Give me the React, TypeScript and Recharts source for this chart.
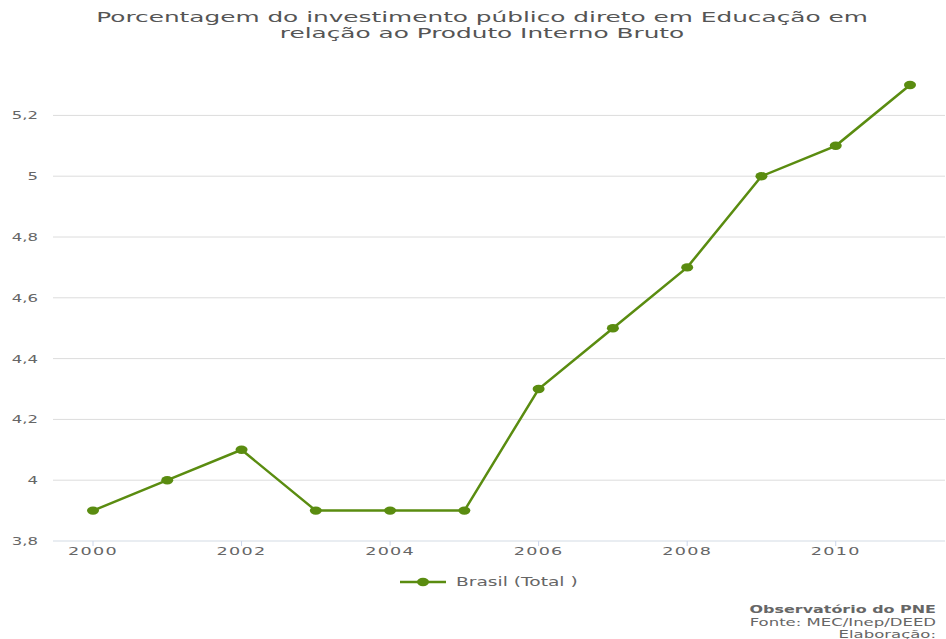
import React from 'react';
import { LineChart, Line, XAxis, YAxis, ReferenceLine } from 'recharts';

const years = [2000, 2001, 2002, 2003, 2004, 2005, 2006, 2007, 2008, 2009, 2010, 2011];
const brasilTotal = [3.9, 4.0, 4.1, 3.9, 3.9, 3.9, 4.3, 4.5, 4.7, 5.0, 5.1, 5.3];
const yTicks = [3.8, 4.0, 4.2, 4.4, 4.6, 4.8, 5.0, 5.2];
const seriesName = 'Brasil (Total )';
const titleLines = ['Porcentagem do investimento público direto em Educação em', 'relação ao Produto Interno Bruto'];
const footerLines = ['Observatório do PNE', 'Fonte: MEC/Inep/DEED', 'Elaboração:'];

const data = years.map((y, i) => ({ year: y, value: brasilTotal[i] }));

const GREEN = '#5a8c10';
const FONT = '"DejaVu Sans", sans-serif';
const SX = 1.5;

const fmt = (v: number) => {
  const s = (Math.round(v * 10) / 10).toString();
  return s.replace('.', ',');
};

function Stretch({ x, y, children, anchor = 'middle', size = 11, fill = '#666', weight = 'normal', sx = SX, ls = 0 }: any) {
  return (
    <g transform={`translate(${x},${y}) scale(${sx},1)`}>
      <text x={0} y={0} textAnchor={anchor} fontSize={size} fill={fill} fontFamily={FONT} fontWeight={weight} letterSpacing={ls}>
        {children}
      </text>
    </g>
  );
}

const XTick = (props: any) => {
  const { x, y, payload } = props;
  return <Stretch x={x} y={y + 6} anchor="middle" size={11} sx={1.6} ls={0.8}>{payload.value}</Stretch>;
};

const YTick = (props: any) => {
  const { x, y, payload } = props;
  return <Stretch x={x} y={y + 4} anchor="end" size={11}>{fmt(payload.value)}</Stretch>;
};

const Dot = (props: any) => {
  const { cx, cy } = props;
  if (cx == null || cy == null) return null;
  return <ellipse cx={cx} cy={cy} rx={6} ry={4.2} fill={GREEN} />;
};

export default function App() {
  return (
    <div style={{ position: 'absolute', left: 0, top: 0, width: 946, height: 639, background: '#fff' }}>
      <LineChart width={946} height={639} data={data} margin={{ top: 85, right: 1, bottom: 68, left: 0 }}>
        <XAxis
          dataKey="year"
          type="category"
          interval={1}
          padding={{ left: 40, right: 35 }}
          axisLine={{ stroke: '#d3dbe4' }}
          tickLine={{ stroke: '#ccd6eb' }}
          tickSize={5}
          tickMargin={3}
          height={30}
          tick={<XTick />}
        />
        <YAxis
          domain={[3.8, 5.3]}
          ticks={yTicks}
          type="number"
          width={53}
          axisLine={false}
          tickLine={false}
          tickSize={0}
          tickMargin={15}
          tick={<YTick />}
        />
        {yTicks.slice(1).map((t) => (
          <ReferenceLine key={t} y={t} stroke="#dcdcdc" strokeWidth={1} ifOverflow="visible" />
        ))}
        <Line
          dataKey="value"
          name={seriesName}
          stroke={GREEN}
          strokeWidth={2.5}
          dot={<Dot />}
          activeDot={false}
          isAnimationActive={false}
        />
      </LineChart>
      <svg width={946} height={639} style={{ position: 'absolute', left: 0, top: 0, pointerEvents: 'none' }}>
        <Stretch x={482} y={22} size={14} fill="#555" sx={1.77}>{titleLines[0]}</Stretch>
        <Stretch x={482} y={37.5} size={14} fill="#555" sx={1.77}>{titleLines[1]}</Stretch>
        <line x1={400} y1={582} x2={446} y2={582} stroke={GREEN} strokeWidth={2.5} />
        <ellipse cx={423} cy={582} rx={6} ry={4.2} fill={GREEN} />
        <Stretch x={456} y={586} anchor="start" size={11.5} fill="#666" sx={1.62}>{seriesName}</Stretch>
        <Stretch x={936} y={613} anchor="end" size={11} fill="#666" weight="bold" sx={1.45}>{footerLines[0]}</Stretch>
        <Stretch x={936} y={626} anchor="end" size={11} fill="#666">{footerLines[1]}</Stretch>
        <Stretch x={936} y={638} anchor="end" size={11} fill="#666">{footerLines[2]}</Stretch>
      </svg>
    </div>
  );
}
